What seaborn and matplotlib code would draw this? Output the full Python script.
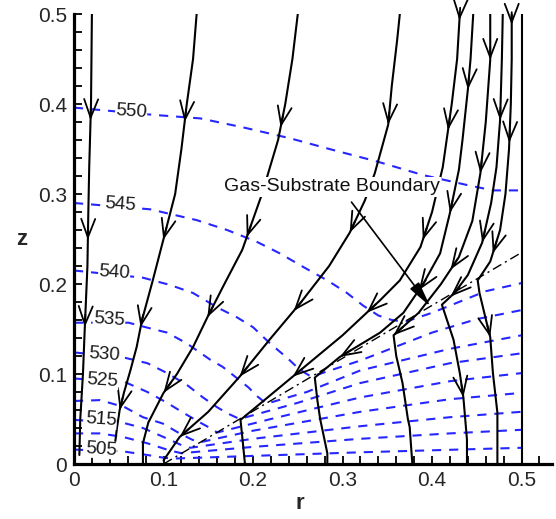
import matplotlib
matplotlib.use("Agg")
import matplotlib.pyplot as plt
import numpy as np
import pandas as pd
import seaborn as sns

# ---------------- streamlines (r, z), listed from the inlet at z = 0.5 downward ----------------
s1_r = [0.020, 0.019, 0.017, 0.016, 0.015, 0.012, 0.010, 0.007, 0.006]
s1_z = [0.500, 0.400, 0.330, 0.280, 0.220, 0.150, 0.100, 0.050, 0.010]

s2_r = [0.137, 0.133, 0.126, 0.120, 0.113, 0.100, 0.088, 0.076, 0.070, 0.063, 0.056, 0.051, 0.048, 0.046]
s2_z = [0.500, 0.450, 0.400, 0.350, 0.300, 0.250, 0.204, 0.160, 0.130, 0.104, 0.080, 0.060, 0.040, 0.024]

s3_r = [0.250, 0.244, 0.236, 0.228, 0.210, 0.188, 0.168, 0.149, 0.133, 0.115, 0.100, 0.083, 0.077, 0.077]
s3_z = [0.500, 0.450, 0.400, 0.360, 0.300, 0.238, 0.200, 0.163, 0.130, 0.100, 0.079, 0.046, 0.023, 0.000]

s4_r = [0.364, 0.361, 0.355, 0.351, 0.336, 0.325, 0.308, 0.285, 0.253, 0.220, 0.185, 0.150, 0.118, 0.100]
s4_z = [0.500, 0.471, 0.420, 0.377, 0.323, 0.293, 0.257, 0.220, 0.179, 0.140, 0.097, 0.058, 0.030, 0.004]

s5_r = [0.431, 0.428, 0.422, 0.412, 0.400, 0.387, 0.364, 0.342, 0.300, 0.260, 0.220, 0.186, 0.188, 0.191]
s5_z = [0.500, 0.450, 0.400, 0.330, 0.280, 0.241, 0.204, 0.182, 0.143, 0.110, 0.077, 0.049, 0.030, 0.000]

s6_r = [0.446, 0.443, 0.440, 0.434, 0.430, 0.420, 0.409, 0.390, 0.368, 0.342, 0.297, 0.269, 0.272, 0.275, 0.283, 0.283]
s6_z = [0.500, 0.450, 0.416, 0.360, 0.327, 0.279, 0.234, 0.200, 0.168, 0.146, 0.119, 0.096, 0.070, 0.050, 0.012, 0.000]

s7_r = [0.465, 0.465, 0.460, 0.454, 0.445, 0.430, 0.410, 0.385, 0.357, 0.360, 0.367, 0.373, 0.375, 0.378]
s7_z = [0.500, 0.449, 0.380, 0.323, 0.270, 0.230, 0.200, 0.168, 0.143, 0.120, 0.090, 0.050, 0.041, 0.000]

s8_r = [0.479, 0.478, 0.476, 0.472, 0.466, 0.456, 0.440, 0.425, 0.411, 0.424, 0.431, 0.435, 0.439, 0.439]
s8_z = [0.500, 0.450, 0.382, 0.330, 0.290, 0.246, 0.210, 0.190, 0.177, 0.138, 0.101, 0.074, 0.027, 0.000]

s9_r = [0.489, 0.489, 0.488, 0.486, 0.482, 0.476, 0.465, 0.451, 0.453, 0.461, 0.465, 0.468, 0.473, 0.473]
s9_z = [0.500, 0.450, 0.400, 0.350, 0.300, 0.260, 0.225, 0.204, 0.190, 0.157, 0.141, 0.101, 0.057, 0.000]

wall_r = [0.5, 0.5]
wall_z = [0.0, 0.5]

# heights at which a direction chevron sits on each streamline
s1_arrows = [0.382, 0.249, 0.152]
s2_arrows = [0.380, 0.249, 0.152, 0.060]
s3_arrows = [0.374, 0.252, 0.163, 0.079]
s4_arrows = [0.377, 0.257, 0.170, 0.097, 0.030]
s5_arrows = [0.493, 0.371, 0.249, 0.168, 0.097]
s6_arrows = [0.416, 0.279, 0.193, 0.119]
s7_arrows = [0.449, 0.323, 0.216, 0.143]
s8_arrows = [0.382, 0.246, 0.186, 0.074]
s9_arrows = [0.488, 0.357, 0.234, 0.141]

# ---------------- gas-substrate interface ----------------
boundary_r = [0.1, 0.5]
boundary_z = [0.0, 0.235]

# ---------------- isotherms (K) ----------------
iso_levels = [550, 545, 540, 535, 530, 525, 520, 515, 510, 505]

t550_r = [0.000, 0.088, 0.141, 0.189, 0.241, 0.289, 0.339, 0.390, 0.439, 0.468, 0.500]
t550_z = [0.396, 0.388, 0.384, 0.374, 0.362, 0.349, 0.336, 0.321, 0.310, 0.304, 0.304]

t545_r = [0.000, 0.085, 0.137, 0.171, 0.204, 0.230, 0.256, 0.283, 0.305, 0.323, 0.340, 0.355, 0.370, 0.400, 0.430, 0.460, 0.500]
t545_z = [0.290, 0.283, 0.271, 0.260, 0.247, 0.234, 0.219, 0.204, 0.190, 0.176, 0.165, 0.160, 0.158, 0.168, 0.180, 0.192, 0.201]

t540_r = [0.000, 0.077, 0.107, 0.133, 0.160, 0.182, 0.200, 0.219, 0.238, 0.252, 0.265, 0.320, 0.400, 0.450, 0.500]
t540_z = [0.215, 0.207, 0.199, 0.190, 0.174, 0.163, 0.152, 0.134, 0.118, 0.105, 0.097, 0.115, 0.146, 0.161, 0.171]

t535_r = [0.000, 0.061, 0.080, 0.104, 0.126, 0.152, 0.166, 0.180, 0.195, 0.205, 0.215, 0.260, 0.320, 0.420, 0.500]
t535_z = [0.157, 0.157, 0.152, 0.146, 0.134, 0.116, 0.108, 0.097, 0.085, 0.075, 0.067, 0.080, 0.104, 0.128, 0.143]

t530_r = [0.000, 0.057, 0.082, 0.104, 0.126, 0.144, 0.160, 0.172, 0.185, 0.250, 0.320, 0.420, 0.500]
t530_z = [0.124, 0.118, 0.112, 0.101, 0.088, 0.074, 0.063, 0.056, 0.050, 0.068, 0.090, 0.112, 0.123]

t525_r = [0.000, 0.057, 0.082, 0.104, 0.122, 0.141, 0.152, 0.160, 0.220, 0.320, 0.420, 0.500]
t525_z = [0.095, 0.091, 0.080, 0.068, 0.057, 0.046, 0.040, 0.035, 0.050, 0.074, 0.092, 0.101]

t520_r = [0.000, 0.029, 0.057, 0.077, 0.099, 0.118, 0.132, 0.140, 0.200, 0.320, 0.420, 0.500]
t520_z = [0.070, 0.071, 0.063, 0.052, 0.045, 0.034, 0.027, 0.024, 0.037, 0.058, 0.072, 0.079]

t515_r = [0.000, 0.054, 0.077, 0.100, 0.120, 0.130, 0.200, 0.320, 0.420, 0.500]
t515_z = [0.049, 0.046, 0.040, 0.030, 0.021, 0.018, 0.028, 0.042, 0.052, 0.058]

t510_r = [0.000, 0.029, 0.055, 0.082, 0.107, 0.120, 0.200, 0.320, 0.420, 0.500]
t510_z = [0.034, 0.034, 0.030, 0.023, 0.015, 0.012, 0.019, 0.028, 0.034, 0.038]

t505_r = [0.000, 0.055, 0.082, 0.100, 0.110, 0.200, 0.320, 0.500]
t505_z = [0.016, 0.014, 0.010, 0.007, 0.006, 0.009, 0.013, 0.018]

labelled_levels = [550, 545, 540, 535, 530, 525, 515, 505]

xtick_values = [0.0, 0.1, 0.2, 0.3, 0.4, 0.5]
xtick_labels = ["0", "0.1", "0.2", "0.3", "0.4", "0.5"]
ytick_values = [0.0, 0.1, 0.2, 0.3, 0.4, 0.5]
ytick_labels = ["0", "0.1", "0.2", "0.3", "0.4", "0.5"]

# ---------------- assemble long tables ----------------
streamlines = {
    "s1": (s1_r, s1_z, s1_arrows), "s2": (s2_r, s2_z, s2_arrows),
    "s3": (s3_r, s3_z, s3_arrows), "s4": (s4_r, s4_z, s4_arrows),
    "s5": (s5_r, s5_z, s5_arrows), "s6": (s6_r, s6_z, s6_arrows),
    "s7": (s7_r, s7_z, s7_arrows), "s8": (s8_r, s8_z, s8_arrows),
    "s9": (s9_r, s9_z, s9_arrows), "wall": (wall_r, wall_z, []),
}
isotherms = {
    550: (t550_r, t550_z), 545: (t545_r, t545_z), 540: (t540_r, t540_z),
    535: (t535_r, t535_z), 530: (t530_r, t530_z), 525: (t525_r, t525_z),
    520: (t520_r, t520_z), 515: (t515_r, t515_z), 510: (t510_r, t510_z),
    505: (t505_r, t505_z),
}

stream_df = pd.concat(
    [pd.DataFrame({"line": k, "r": v[0], "z": v[1]}) for k, v in streamlines.items()],
    ignore_index=True)
iso_df = pd.concat(
    [pd.DataFrame({"level": lev, "r": isotherms[lev][0], "z": isotherms[lev][1]})
     for lev in iso_levels], ignore_index=True)
bnd_df = pd.DataFrame({"r": boundary_r, "z": boundary_z})

# ---------------- figure ----------------
sns.set_theme(style="ticks")
plt.rcParams["font.family"] = ["Liberation Sans", "DejaVu Sans"]

fig = plt.figure(figsize=(5.56, 5.19), dpi=100)
ax = fig.add_axes([74 / 556, 1 - 464 / 519, 478 / 556, 450 / 519])

ISO_BLUE = "#2626ff"

# isotherms, dashed blue
n0 = len(ax.lines)
sns.lineplot(data=iso_df, x="r", y="z", units="level", estimator=None, sort=False,
             color=ISO_BLUE, lw=1.5, ax=ax, legend=False)
for ln in ax.lines[n0:]:
    ln.set_linestyle((0, (4.4, 3.8)))
    ln.set_zorder(2)

# interface, dash-dot
n0 = len(ax.lines)
sns.lineplot(data=bnd_df, x="r", y="z", estimator=None, sort=False,
             color="black", lw=1.0, ax=ax, legend=False)
for ln in ax.lines[n0:]:
    ln.set_linestyle((0, (7, 3, 1.5, 3)))
    ln.set_zorder(3)

# streamlines, solid black
n0 = len(ax.lines)
sns.lineplot(data=stream_df, x="r", y="z", units="line", estimator=None, sort=False,
             color="black", lw=1.5, ax=ax, legend=False)
for ln in ax.lines[n0:]:
    ln.set_zorder(4)


def point_on(r, z, zq):
    """Position and unit direction of a streamline where it crosses height zq."""
    for i in range(len(z) - 1):
        if z[i] >= zq >= z[i + 1]:
            t = (z[i] - zq) / (z[i] - z[i + 1]) if z[i] != z[i + 1] else 0.0
            pr = r[i] + t * (r[i + 1] - r[i])
            dr, dz = r[i + 1] - r[i], z[i + 1] - z[i]
            n = np.hypot(dr, dz)
            return pr, zq, dr / n, dz / n
    return None


for key, (r, z, arrows) in streamlines.items():
    for zq in arrows:
        p = point_on(r, z, zq)
        if p is None:
            continue
        pr, pz, ur, uz = p
        ax.annotate("", xy=(pr, pz), xytext=(pr - 0.014 * ur, pz - 0.014 * uz),
                    arrowprops=dict(arrowstyle="->,head_length=0.95,head_width=0.36",
                                    color="black", lw=1.3, mutation_scale=14,
                                    shrinkA=0, shrinkB=0),
                    zorder=5)

# isotherm labels at the left end of each curve
label_pos = {550: (0.064, 0.392), 545: (0.052, 0.288), 540: (0.045, 0.213),
             535: (0.039, 0.160), 530: (0.034, 0.121), 525: (0.032, 0.093),
             515: (0.030, 0.049), 505: (0.030, 0.016)}
for lev in labelled_levels:
    lr, lz = label_pos[lev]
    ax.text(lr, lz, str(lev), fontsize=13.5, ha="center", va="center", rotation=-4,
            color="#1a1a1a", zorder=6,
            bbox=dict(facecolor="white", edgecolor="none", pad=0.3))

# interface annotation
ax.annotate("", xy=(0.398, 0.175), xytext=(0.31, 0.291),
            arrowprops=dict(arrowstyle="-|>,head_length=1.3,head_width=0.28",
                            color="black", lw=1.2, mutation_scale=12,
                            shrinkA=0, shrinkB=0), zorder=7)
ax.text(0.288, 0.308, "Gas-Substrate Boundary", fontsize=14, ha="center", va="center",
        color="#111111", zorder=8,
        bbox=dict(facecolor="white", edgecolor="none", pad=1.0))

# axes styling
ax.set_xlim(0, 0.534)
ax.set_ylim(0, 0.5)
ax.set_xticks(xtick_values)
ax.set_xticklabels(xtick_labels)
ax.set_yticks(ytick_values)
ax.set_yticklabels(ytick_labels)
ax.set_xticks(np.arange(0, 0.5201, 0.02), minor=True)
ax.set_yticks(np.arange(0, 0.5001, 0.02), minor=True)
ax.tick_params(which="both", direction="in", length=6, width=1.3, color="black")
ax.tick_params(axis="x", which="major", labelsize=15, pad=5)
ax.tick_params(axis="y", which="major", labelsize=15, pad=5)
for side in ("top", "right"):
    ax.spines[side].set_visible(False)
for side in ("left", "bottom"):
    ax.spines[side].set_linewidth(2.3)
    ax.spines[side].set_color("black")
ax.set_facecolor("white")

ax.set_xlabel("r", fontsize=16, fontweight="bold")
ax.set_ylabel("z", fontsize=16, fontweight="bold", rotation=0)
ax.xaxis.label.set_va("center")
ax.yaxis.label.set_va("center")
ax.xaxis.label.set_ha("center")
ax.yaxis.label.set_ha("center")
ax.xaxis.set_label_coords(0.473, -0.087)
ax.yaxis.set_label_coords(-0.109, 0.498)

fig.savefig("out.png", dpi=100, facecolor="white")
